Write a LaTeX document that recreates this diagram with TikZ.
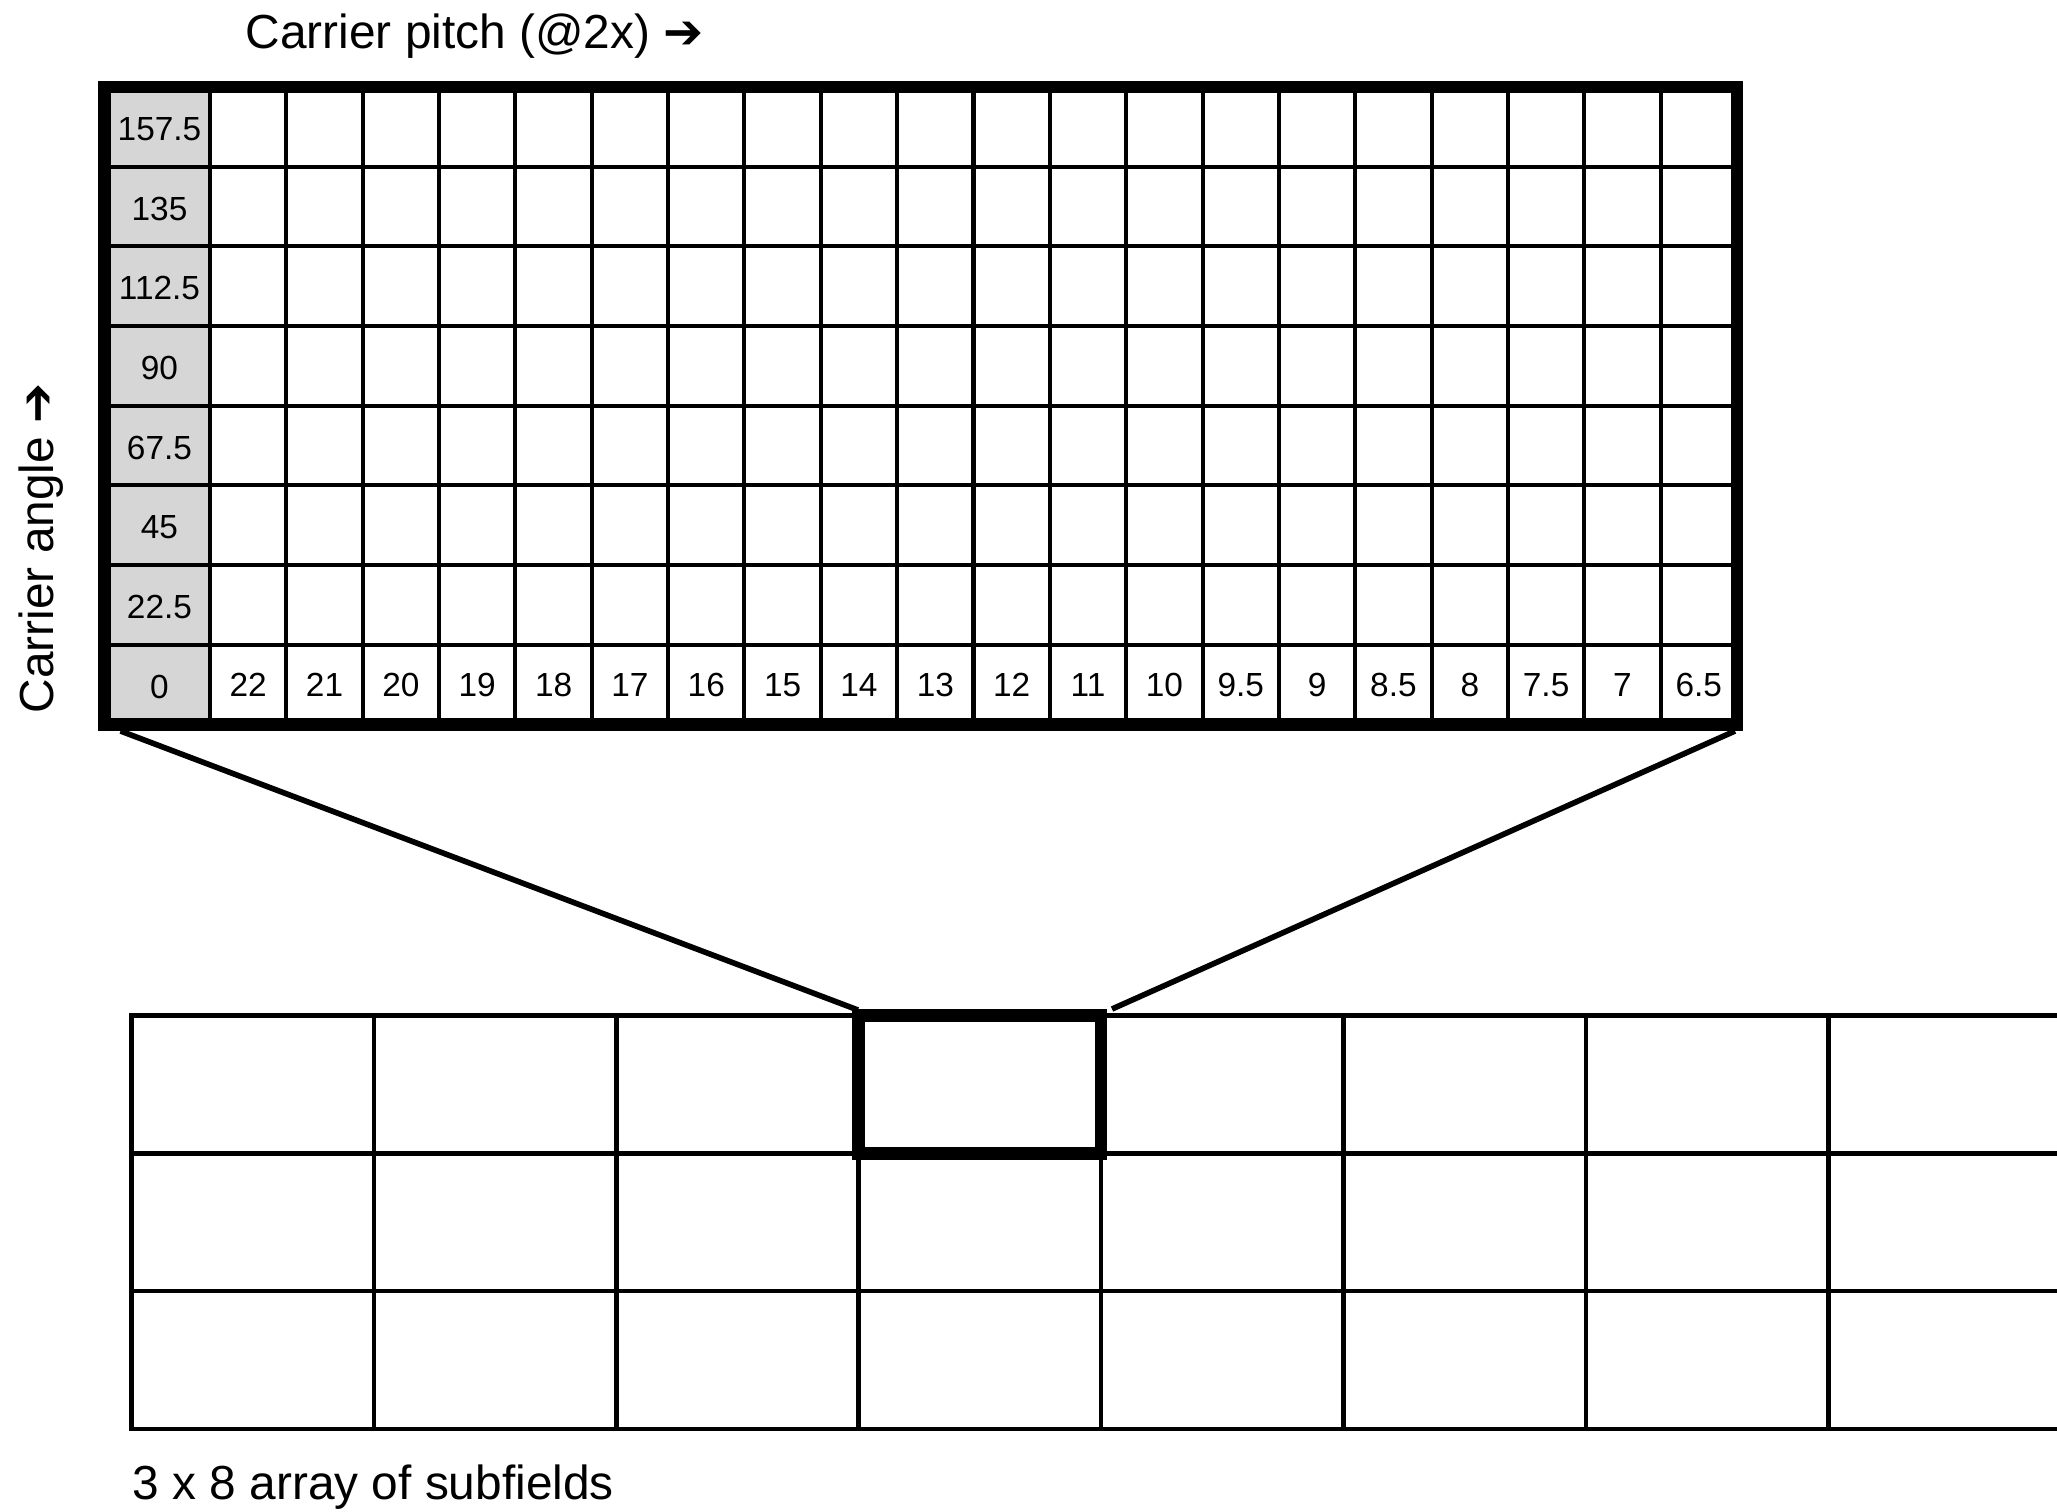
\documentclass[tikz,border=0pt]{standalone}
\usepackage{fontspec}
\setmainfont{Liberation Sans}
\newfontfamily\arrowfont{DejaVu Sans Bold}
\definecolor{cellgray}{RGB}{214,214,214}
\begin{document}
\begin{tikzpicture}[x=0.01cm,y=-0.01cm,
  thinline/.style={line width=1.15pt,line cap=rect},
  thickframe/.style={line width=3.6pt},
  subline/.style={line width=1.3pt,line cap=rect},
  zoomline/.style={line width=1.6pt},
  numlabel/.style={font=\fontsize{9.5}{11}\selectfont, inner sep=0pt},
  biglabel/.style={font=\fontsize{13.6}{16}\selectfont, inner sep=0pt}]
\useasboundingbox (0,0) rectangle (2057,1511);
% shaded angle column
\fill[cellgray] (104.7,87) rectangle (210,724.5);
% zoom connectors
\coordinate (gridBL) at (120.5,731);
\coordinate (gridBR) at (1735,731);
\coordinate (cellTL) at (858,1010);
\coordinate (cellTR) at (1112,1009);
\draw[zoomline] (gridBL) -- (cellTL);
\draw[zoomline] (gridBR) -- (cellTR);
% top grid
\foreach \i in {1,...,7}
  \draw[thinline] (104.7,{87+79.6875*\i}) -- (1737,{87+79.6875*\i});
\foreach \j in {0,...,19}
  \draw[thinline] ({210+76.35*\j},87) -- ({210+76.35*\j},724.5);
\draw[thickframe] (104.7,87) rectangle (1737,724.5);
% labels
\foreach \lab [count=\i from 0] in {157.5,135,112.5,90,67.5,45,22.5,0}
  \node[numlabel] (row\i) at (159.5,{89+79.6875*(\i+0.5)}) {\lab};
\foreach \lab [count=\j from 0] in {22,21,20,19,18,17,16,15,14,13,12,11,10,9.5,9,8.5,8,7.5,7,6.5}
  \node[numlabel] (col\j) at ({210+76.35*(\j+0.5)},684.7) {\lab};
% bottom array
\begin{scope}
\clip (0,0) rectangle (2057,1511);
\foreach \r in {0,...,3}
  \draw[subline] (131.5,{1015.5+137.83*\r}) -- (2070.7,{1015.5+137.83*\r});
\foreach \c in {0,...,8}
  \draw[subline] ({131.5+242.4*\c},1015.5) -- ({131.5+242.4*\c},1429);
\end{scope}
\draw[thickframe] (858.7,1015.5) rectangle (1101.1,1153.3);
% texts
\node[biglabel, anchor=base west] (pitchlabel) at (245,48) {Carrier pitch (@2x) {\arrowfont ➔}};
\node[biglabel, anchor=base west] (arraylabel) at (132,1499) {3 x 8 array of subfields};
\node[biglabel, rotate=90, anchor=base west] (anglelabel) at (53,714) {Carrier angle {\arrowfont ➔}};
\end{tikzpicture}
\end{document}
